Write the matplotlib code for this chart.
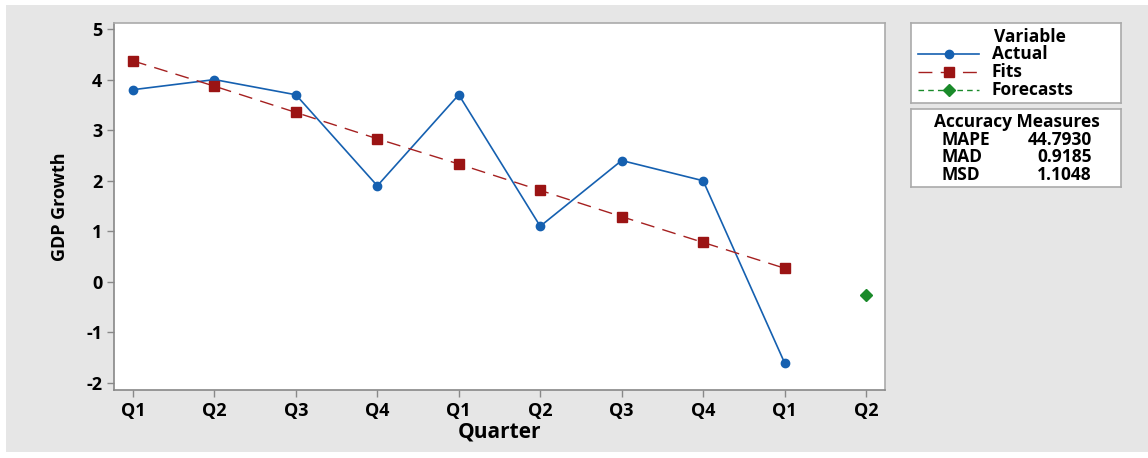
import matplotlib.pyplot as plt
from matplotlib.patches import Rectangle
from matplotlib.lines import Line2D
import numpy as np

quarters = ['Q1', 'Q2', 'Q3', 'Q4', 'Q1', 'Q2', 'Q3', 'Q4', 'Q1', 'Q2']
actual = [3.8, 4.0, 3.7, 1.9, 3.7, 1.1, 2.4, 2.0, -1.6]
fits = [4.37, 3.87, 3.35, 2.83, 2.33, 1.81, 1.29, 0.78, 0.27]
forecasts = [-0.25]
measure_names = ['MAPE', 'MAD', 'MSD']
measure_values = ['44.7930', '0.9185', '1.1048']

plt.rcParams['font.family'] = ['Open Sans', 'DejaVu Sans']

W, H = 1148, 458
WEIGHT = 'bold'


def px_axes(x0, y0, x1, y1):
    # pixel box (top-left origin) -> figure fraction rect
    return [x0 / W, 1 - y1 / H, (x1 - x0) / W, (y1 - y0) / H]


fig = plt.figure(figsize=(W / 100, H / 100), dpi=100, facecolor='white')
fig.patches.append(Rectangle((6 / W, 1 - 452 / H), 1 - 6 / W, 447 / H,
                             transform=fig.transFigure, facecolor='#e6e6e6',
                             edgecolor='none', zorder=-10))

ax = fig.add_axes(px_axes(114, 23, 885, 390))
ax.set_facecolor('white')

style_actual = dict(color='#1560b0', lw=1.2, marker='o', ms=6)
style_fits = dict(color='#a52020', lw=1.0, ls=(0, (10, 6)), marker='s', ms=7,
                  markerfacecolor='#9b1414', markeredgecolor='#9b1414')
style_fc = dict(color='#1a8a2a', lw=1.0, ls=(0, (4, 3)), marker='D', ms=6)

x = np.arange(len(quarters))
ax.plot(x[:len(actual)], actual, **style_actual)
ax.plot(x[:len(fits)], fits, **style_fits)
ax.plot(x[len(actual):], forecasts, **style_fc)

ax.set_xlim(-0.233, 9.233)
ax.set_ylim(-2.138, 5.119)
ax.set_xticks(x)
ax.set_xticklabels(quarters)
ax.set_yticks(range(-2, 6))
ax.set_yticklabels([str(v) for v in range(-2, 6)])
ax.tick_params(labelsize=13, length=5, color='#888888', width=1)
for lab in ax.get_xticklabels() + ax.get_yticklabels():
    lab.set_fontweight(WEIGHT)
for s in ax.spines.values():
    s.set_color('#aaaaaa')
    s.set_linewidth(1.2)
ax.spines['left'].set_color('#888888')
ax.spines['bottom'].set_color('#888888')

ax.set_xlabel('Quarter', fontsize=15, fontweight=WEIGHT, labelpad=1)
ax.set_ylabel('GDP Growth', fontsize=13, fontweight=WEIGHT, labelpad=12)

# legend box, drawn by hand to match the Minitab layout
lg = fig.add_axes(px_axes(911, 23, 1121, 103))
lg.set_xlim(911, 1121)
lg.set_ylim(103, 23)
lg.set_xticks([])
lg.set_yticks([])
for s in lg.spines.values():
    s.set_color('#aaaaaa')
    s.set_linewidth(1.2)
lg.text(1030, 37, 'Variable', ha='center', va='center', fontsize=12.5,
        fontweight=WEIGHT)
for yy, lab, st in [(54, 'Actual', style_actual), (72, 'Fits', style_fits),
                    (90, 'Forecasts', style_fc)]:
    lg.add_line(Line2D([918, 979], [yy, yy], **{k: v for k, v in st.items()
                                                 if k not in ('marker', 'ms', 'markerfacecolor', 'markeredgecolor')}))
    lg.plot([949], [yy], ls='none', **{k: v for k, v in st.items() if k not in ('ls', 'lw')})
    lg.text(992, yy, lab, ha='left', va='center', fontsize=12.5, fontweight=WEIGHT)

box = fig.add_axes(px_axes(911, 109, 1121, 187))
box.set_xlim(911, 1121)
box.set_ylim(187, 109)
box.set_xticks([])
box.set_yticks([])
for s in box.spines.values():
    s.set_color('#aaaaaa')
    s.set_linewidth(1.2)
box.text(1017, 122, 'Accuracy Measures', ha='center', va='center', fontsize=12.5,
         fontweight=WEIGHT)
for i, (name, val) in enumerate(zip(measure_names, measure_values)):
    yy = 140 + i * 17.5
    box.text(942, yy, name, ha='left', va='center', fontsize=12.5,
             fontweight=WEIGHT)
    box.text(1092, yy, val, ha='right', va='center', fontsize=12.5,
             fontweight=WEIGHT)

fig.savefig('out.png', dpi=100, facecolor=fig.get_facecolor())
